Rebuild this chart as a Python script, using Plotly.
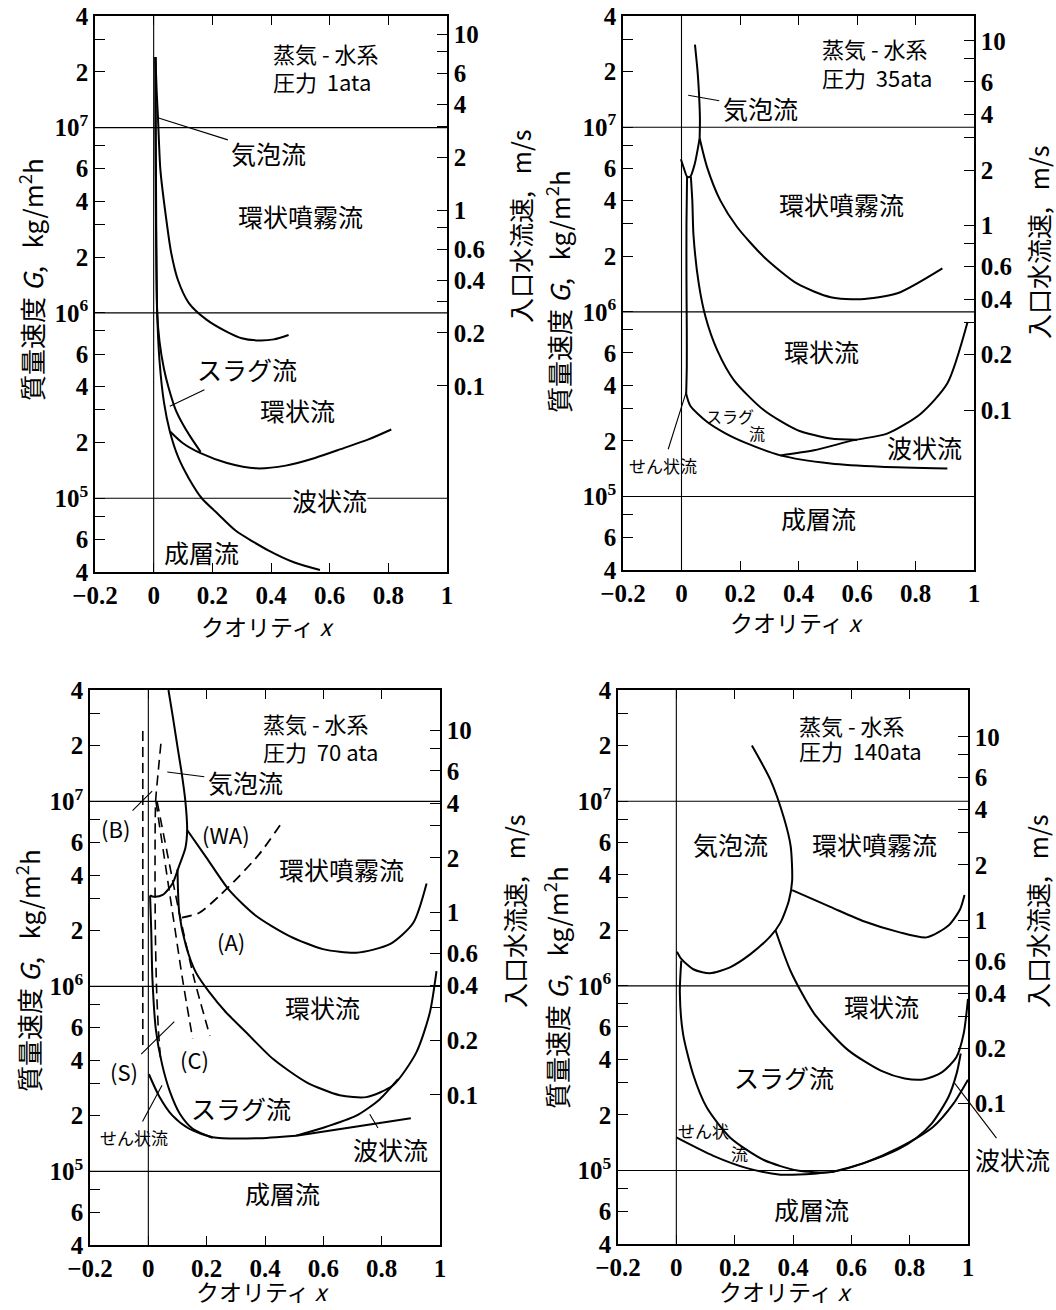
import math
import plotly.graph_objects as go

FIG_W, FIG_H = 1056, 1310

# ---------------- axes / ticks ----------------
X_RANGE = [-0.2, 1.0]
X_TICKS = [-0.2, 0, 0.2, 0.4, 0.6, 0.8, 1]
X_TICKTEXT = ["\u22120.2", "0", "0.2", "0.4", "0.6", "0.8", "1"]
G_RANGE = [4e4, 4e7]
G_TICKS = [4e4, 6e4, 1e5, 2e5, 4e5, 6e5, 1e6, 2e6, 4e6, 6e6, 1e7, 2e7, 4e7]
G_TICKTEXT = ["4", "6", "10<sup>5</sup>", "2", "4", "6", "10<sup>6</sup>",
              "2", "4", "6", "10<sup>7</sup>", "2", "4"]
G_MINOR = [8e4, 3e5, 8e5, 3e6, 8e6, 3e7]
G_GRID = [1e5, 1e6, 1e7]
V_TICKS = [0.1, 0.2, 0.4, 0.6, 1, 2, 4, 6, 10]
V_TICKTEXT = ["0.1", "0.2", "0.4", "0.6", "1", "2", "4", "6", "10"]
V_MINOR = [0.3, 0.8, 3, 8]
# inlet-velocity axis extent (m/s) at the bottom and top of each panel, as printed
V_BOTTOM = [0.00873, 0.01365, 0.0150, 0.01714]
V_TOP = [12.7, 13.65, 16.7, 17.99]
PRESSURES = ["1ata", "35ata", "70 ata", "140ata"]

# ---------------- panel 1 : 1 ata ----------------
P1_BUBBLE_X = [0.006, 0.01, 0.015, 0.023, 0.043, 0.06, 0.083, 0.12, 0.18, 0.25, 0.30, 0.36, 0.41, 0.46]
P1_BUBBLE_G = [2.4e7, 1.6e7, 1.1e7, 5.9e6, 3.2e6, 2.1e6, 1.5e6, 1.13e6, 9.2e5, 7.9e5, 7.3e5, 7.1e5, 7.2e5, 7.6e5]
P1_STRAT_X = [0.006, 0.006, 0.008, 0.012, 0.02, 0.035, 0.055, 0.084, 0.12, 0.164, 0.22, 0.279, 0.394, 0.48, 0.567]
P1_STRAT_G = [2.4e7, 1e7, 3e6, 1e6, 5.5e5, 3.3e5, 2.3e5, 1.66e5, 1.28e5, 1e5, 8.2e4, 6.7e4, 5.2e4, 4.5e4, 4.1e4]
P1_SLUG_X = [0.006, 0.008, 0.012, 0.02, 0.035, 0.05, 0.075, 0.10, 0.125, 0.16]
P1_SLUG_G = [2.4e7, 5e6, 1e6, 7e5, 5e5, 4e5, 3.0e5, 2.5e5, 2.15e5, 1.78e5]
P1_WAVY_X = [0.055, 0.10, 0.16, 0.25, 0.35, 0.45, 0.55, 0.65, 0.73, 0.81]
P1_WAVY_G = [2.3e5, 1.98e5, 1.75e5, 1.55e5, 1.45e5, 1.5e5, 1.65e5, 1.87e5, 2.07e5, 2.35e5]

# ---------------- panel 2 : 35 ata ----------------
P2_BUBBLE_X = [0.046, 0.055, 0.060, 0.063, 0.062]
P2_BUBBLE_G = [2.8e7, 2.0e7, 1.5e7, 1.1e7, 8.7e6]
P2_MIST_X = [0.062, 0.087, 0.133, 0.19, 0.281, 0.396, 0.51, 0.612, 0.738, 0.892]
P2_MIST_G = [8.7e6, 6.1e6, 4.0e6, 2.88e6, 1.99e6, 1.42e6, 1.2e6, 1.17e6, 1.26e6, 1.72e6]
P2_BUMP_X = [-0.002, 0.008, 0.019, 0.03, 0.045, 0.062]
P2_BUMP_G = [6.7e6, 6.0e6, 5.4e6, 5.4e6, 6.3e6, 8.7e6]
P2_PLUG_X = [0.019, 0.017, 0.017, 0.018, 0.018, 0.016]
P2_PLUG_G = [5.4e6, 3e6, 1.5e6, 8e5, 5e5, 3.6e5]
P2_LOWER_X = [0.016, 0.03, 0.087, 0.15, 0.224, 0.338, 0.51, 0.681, 0.909]
P2_LOWER_G = [3.6e5, 3.1e5, 2.54e5, 2.2e5, 1.94e5, 1.67e5, 1.51e5, 1.45e5, 1.42e5]
P2_ANN_X = [0.032, 0.037, 0.041, 0.059, 0.082, 0.122, 0.179, 0.281, 0.396, 0.51, 0.60]
P2_ANN_G = [5.4e6, 4.0e6, 2.6e6, 1.42e6, 9.4e5, 6.2e5, 4.27e5, 2.94e5, 2.29e5, 2.06e5, 2.03e5]
P2_WAVY_X = [0.338, 0.453, 0.59, 0.703, 0.818, 0.909, 0.978]
P2_WAVY_G = [1.67e5, 1.78e5, 2.02e5, 2.19e5, 2.81e5, 4.1e5, 8.8e5]

# ---------------- panel 3 : 70 ata ----------------
P3_BUBBLE_X = [0.069, 0.085, 0.10, 0.115, 0.127, 0.133, 0.127, 0.106, 0.083, 0.049, 0.02, 0.006]
P3_BUBBLE_G = [4e7, 2.8e7, 1.97e7, 1.4e7, 1.0e7, 7.0e6, 5.6e6, 4.5e6, 3.6e6, 3.12e6, 3.05e6, 3.1e6]
P3_MIST_X = [0.133, 0.198, 0.278, 0.37, 0.484, 0.599, 0.713, 0.828, 0.908, 0.954]
P3_MIST_G = [7.0e6, 5.0e6, 3.3e6, 2.4e6, 1.87e6, 1.59e6, 1.52e6, 1.69e6, 2.2e6, 3.6e6]
P3_ANN_X = [0.10, 0.106, 0.129, 0.163, 0.209, 0.266, 0.335, 0.427, 0.541, 0.656, 0.747, 0.839, 0.919, 0.965, 0.988]
P3_ANN_G = [4.3e6, 2.5e6, 1.66e6, 1.19e6, 9.3e5, 7.25e5, 5.65e5, 4.06e5, 3.04e5, 2.58e5, 2.52e5, 2.92e5, 4.4e5, 7.2e5, 1.21e6]
P3_SLUG_X = [0.006, 0.01, 0.014, 0.026, 0.047, 0.074, 0.108, 0.152, 0.22]
P3_SLUG_G = [3.1e6, 2e6, 1.1e6, 5.8e5, 3.8e5, 2.7e5, 2.05e5, 1.7e5, 1.52e5]
P3_PLUG_X = [0.002, 0.037, 0.083, 0.14, 0.22, 0.37, 0.507]
P3_PLUG_G = [3.35e5, 2.55e5, 2.0e5, 1.7e5, 1.53e5, 1.51e5, 1.56e5]
P3_FLAT_X = [0.507, 0.90]
P3_FLAT_G = [1.56e5, 1.94e5]
P3_WAVY_X = [0.507, 0.60, 0.713, 0.793, 0.856]
P3_WAVY_G = [1.56e5, 1.72e5, 2.0e5, 2.45e5, 3.15e5]
# dashed correlations (B), (S), (C), (WA)
P3_B_X = [-0.019, -0.019]
P3_B_G = [2.4e7, 4.7e5]
P3_S_X = [0.043, 0.033, 0.025, 0.023, 0.024, 0.028, 0.034, 0.042]
P3_S_G = [2.05e7, 1.4e7, 1e7, 5e6, 2e6, 1e6, 6e5, 4e5]
P3_C1_X = [0.026, 0.083, 0.117, 0.152]
P3_C1_G = [1e7, 2.5e6, 1.1e6, 5.2e5]
P3_C2_X = [0.030, 0.106, 0.157, 0.211]
P3_C2_G = [1e7, 2.5e6, 1.1e6, 5.4e5]
P3_WA_X = [0.115, 0.175, 0.243, 0.312, 0.381, 0.461]
P3_WA_G = [2.35e6, 2.5e6, 3.08e6, 3.95e6, 5.2e6, 7.8e6]

# ---------------- panel 4 : 140 ata ----------------
P4_BUBBLE_X = [0.259, 0.323, 0.369, 0.392, 0.397, 0.386, 0.357, 0.323, 0.253, 0.184, 0.115, 0.058, 0.017, 0.002]
P4_BUBBLE_G = [2.0e7, 1.3e7, 8.1e6, 5.7e6, 3.7e6, 2.9e6, 2.2e6, 1.86e6, 1.48e6, 1.26e6, 1.17e6, 1.23e6, 1.4e6, 1.53e6]
P4_MIST_X = [0.397, 0.53, 0.645, 0.76, 0.858, 0.933, 0.973, 0.988]
P4_MIST_G = [3.3e6, 2.67e6, 2.23e6, 1.96e6, 1.83e6, 2.12e6, 2.6e6, 3.1e6]
P4_ANN_X = [0.34, 0.392, 0.472, 0.588, 0.703, 0.783, 0.85, 0.91, 0.96, 0.985, 1.0]
P4_ANN_G = [2.0e6, 1.2e6, 7.1e5, 4.5e5, 3.46e5, 3.15e5, 3.12e5, 3.4e5, 4.1e5, 5.5e5, 8.5e5]
P4_SLUG_X = [0.017, 0.012, 0.023, 0.058, 0.104, 0.184, 0.30, 0.415, 0.53, 0.645, 0.76, 0.823, 0.876, 0.933, 0.962, 0.975]
P4_SLUG_G = [1.37e6, 9.2e5, 5.5e5, 3.3e5, 2.2e5, 1.51e5, 1.14e5, 1.0e5, 9.8e4, 1.1e5, 1.3e5, 1.5e5, 1.8e5, 2.5e5, 3.4e5, 4.3e5]
P4_PLUG_X = [0.0, 0.127, 0.242, 0.357, 0.472, 0.53]
P4_PLUG_G = [1.51e5, 1.2e5, 1.03e5, 9.5e4, 9.6e4, 9.8e4]
P4_WAVY_X = [0.53, 0.645, 0.76, 0.88, 0.95, 1.0]
P4_WAVY_G = [9.8e4, 1.1e5, 1.32e5, 1.72e5, 2.3e5, 3.1e5]

# ---------------- layout geometry (pixels: left, right, top, bottom) ----------------
BOXES = [(95, 447, 16, 572), (623, 974, 16, 570), (90, 440, 690, 1245), (618, 968, 690, 1244)]

SERIF = "Liberation Serif"
JP = "Noto Sans CJK JP"
TICK_FONT = dict(family=SERIF, size=25, color="black", weight="bold")

fig = go.Figure()


def xid(k):
    return "x" if k == 1 else f"x{k}"


def yid(k):
    return "y" if k == 1 else f"y{k}"


def y2id(k):
    return f"y{k + 4}"


def add_curve(k, xs, gs, dash="solid", width=2.0, smooth=0.7):
    fig.add_trace(go.Scatter(
        x=xs, y=gs, mode="lines", xaxis=xid(k), yaxis=yid(k),
        line=dict(color="black", width=width, dash=dash,
                  shape="spline" if smooth else "linear", smoothing=smooth or 0),
        hoverinfo="skip", showlegend=False))


annotations = []


def lab(k, x, g, text, size=25, **kw):
    d = dict(x=x, y=math.log10(g), xref=xid(k), yref=yid(k), text=text,
             showarrow=False, xanchor="center", yanchor="middle",
             font=dict(family=JP, size=size, color="black"))
    d.update(kw)
    annotations.append(d)


def leader(k, x, g, text, ax, ay, size=25):
    annotations.append(dict(x=x, y=math.log10(g), xref=xid(k), yref=yid(k), text=text,
                            showarrow=True, arrowhead=0, arrowwidth=1.1, arrowcolor="black",
                            ax=ax, ay=ay, standoff=0, startstandoff=2,
                            font=dict(family=JP, size=size, color="black")))


def paper_text(px, py, text, size=22, angle=0, **kw):
    d = dict(x=px / FIG_W, y=1 - py / FIG_H, xref="paper", yref="paper", text=text,
             showarrow=False, textangle=angle, xanchor="center", yanchor="middle",
             font=dict(family=JP, size=size, color="black"))
    d.update(kw)
    annotations.append(d)


layout_axes = {}
for k in range(1, 5):
    l, r, t, b = BOXES[k - 1]
    xkey = "xaxis" if k == 1 else f"xaxis{k}"
    ykey = "yaxis" if k == 1 else f"yaxis{k}"
    y2key = f"yaxis{k + 4}"
    layout_axes[xkey] = dict(
        domain=[l / FIG_W, r / FIG_W], range=X_RANGE, anchor=yid(k), automargin=False,
        tickmode="array", tickvals=X_TICKS, ticktext=X_TICKTEXT,
        ticks="inside", ticklen=9, tickwidth=1.2, tickcolor="black",
        showline=True, linecolor="black", linewidth=1.6, mirror="ticks",
        showgrid=False, zeroline=False, fixedrange=True, tickfont=TICK_FONT)
    layout_axes[ykey] = dict(
        domain=[1 - b / FIG_H, 1 - t / FIG_H], type="log", automargin=False,
        range=[math.log10(G_RANGE[0]), math.log10(G_RANGE[1])], anchor=xid(k),
        tickmode="array", tickvals=G_TICKS, ticktext=G_TICKTEXT,
        ticks="inside", ticklen=10, tickwidth=1.2, tickcolor="black",
        minor=dict(tickmode="array", tickvals=G_MINOR, ticks="inside", ticklen=10,
                   tickwidth=1.2, tickcolor="black", showgrid=False),
        showline=True, linecolor="black", linewidth=1.6,
        showgrid=False, zeroline=False, fixedrange=True, tickfont=TICK_FONT)
    layout_axes[y2key] = dict(
        type="log", overlaying=yid(k), side="right", anchor=xid(k), automargin=False,
        range=[math.log10(V_BOTTOM[k - 1]), math.log10(V_TOP[k - 1])],
        tickmode="array", tickvals=V_TICKS, ticktext=V_TICKTEXT,
        ticks="inside", ticklen=10, tickwidth=1.2, tickcolor="black",
        minor=dict(tickmode="array", tickvals=V_MINOR, ticks="inside", ticklen=10,
                   tickwidth=1.2, tickcolor="black", showgrid=False),
        showline=True, linecolor="black", linewidth=1.6,
        showgrid=False, zeroline=False, fixedrange=True, tickfont=TICK_FONT)

    # invisible trace so the velocity axis exists
    fig.add_trace(go.Scatter(x=[X_TICKS[0]] * len(V_TICKS), y=V_TICKS, mode="markers",
                             marker=dict(opacity=0), xaxis=xid(k), yaxis=y2id(k),
                             hoverinfo="skip", showlegend=False))
    # reference lines at the decades and at x = 0
    for gv in G_GRID:
        fig.add_trace(go.Scatter(x=X_RANGE, y=[gv, gv], mode="lines", xaxis=xid(k), yaxis=yid(k),
                                 line=dict(color="black", width=1.1), hoverinfo="skip", showlegend=False))
    fig.add_trace(go.Scatter(x=[0, 0], y=G_RANGE, mode="lines", xaxis=xid(k), yaxis=yid(k),
                             line=dict(color="black", width=1.1), hoverinfo="skip", showlegend=False))

# curves
add_curve(1, P1_BUBBLE_X, P1_BUBBLE_G)
add_curve(1, P1_STRAT_X, P1_STRAT_G)
add_curve(1, P1_SLUG_X, P1_SLUG_G)
add_curve(1, P1_WAVY_X, P1_WAVY_G)

add_curve(2, P2_BUBBLE_X, P2_BUBBLE_G)
add_curve(2, P2_MIST_X, P2_MIST_G)
add_curve(2, P2_BUMP_X, P2_BUMP_G)
add_curve(2, P2_PLUG_X, P2_PLUG_G)
add_curve(2, P2_LOWER_X, P2_LOWER_G)
add_curve(2, P2_ANN_X, P2_ANN_G)
add_curve(2, P2_WAVY_X, P2_WAVY_G)

add_curve(3, P3_BUBBLE_X, P3_BUBBLE_G)
add_curve(3, P3_MIST_X, P3_MIST_G)
add_curve(3, P3_ANN_X, P3_ANN_G)
add_curve(3, P3_SLUG_X, P3_SLUG_G)
add_curve(3, P3_PLUG_X, P3_PLUG_G)
add_curve(3, P3_FLAT_X, P3_FLAT_G, smooth=0)
add_curve(3, P3_WAVY_X, P3_WAVY_G)
add_curve(3, P3_B_X, P3_B_G, dash="10px,6px", width=1.6, smooth=0)
add_curve(3, P3_S_X, P3_S_G, dash="10px,6px", width=1.6)
add_curve(3, P3_C1_X, P3_C1_G, dash="10px,6px", width=1.6)
add_curve(3, P3_C2_X, P3_C2_G, dash="10px,6px", width=1.6)
add_curve(3, P3_WA_X, P3_WA_G, dash="10px,6px", width=1.8)

add_curve(4, P4_BUBBLE_X, P4_BUBBLE_G)
add_curve(4, P4_MIST_X, P4_MIST_G)
add_curve(4, P4_ANN_X, P4_ANN_G)
add_curve(4, P4_SLUG_X, P4_SLUG_G)
add_curve(4, P4_PLUG_X, P4_PLUG_G)
add_curve(4, P4_WAVY_X, P4_WAVY_G)

# ---------------- text ----------------
TITLE_LEFT = [0.40, 0.472, 0.385, 0.413]
TITLE_L1 = [7.40, 7.43, 7.424, 7.413]
TITLE_L2 = [7.25, 7.272, 7.275, 7.275]
for k in range(1, 5):
    lab(k, TITLE_LEFT[k - 1], 10 ** TITLE_L1[k - 1], "蒸気 - 水系", size=22, xanchor="left")
    lab(k, TITLE_LEFT[k - 1], 10 ** TITLE_L2[k - 1], "圧力  " + PRESSURES[k - 1], size=22, xanchor="left")

# panel 1
leader(1, 0.014, 10 ** 7.053, "気泡流", 111, 35)
lab(1, 0.499, 10 ** 6.523, "環状噴霧流")
leader(1, 0.055, 10 ** 5.496, "スラグ流", 77, -37)
lab(1, 0.492, 10 ** 5.474, "環状流")
lab(1, 0.601, 10 ** 4.993, "波状流", bgcolor="white", borderpad=0)
lab(1, 0.164, 10 ** 4.712, "成層流")

# panel 2
leader(2, 0.023, 10 ** 7.173, "気泡流", 72, 13)
lab(2, 0.547, 10 ** 6.583, "環状噴霧流")
lab(2, 0.478, 10 ** 5.787, "環状流")
lab(2, 0.167, 10 ** 5.435, "スラグ", size=16)
lab(2, 0.259, 10 ** 5.343, "流", size=16)
leader(2, 0.016, 10 ** 5.565, "せん状流", -23, 73, size=17)
lab(2, 0.832, 10 ** 5.267, "波状流")
lab(2, 0.468, 10 ** 4.883, "成層流")

# panel 3
leader(3, 0.065, 10 ** 7.159, "気泡流", 78, 10)
leader(3, 0.013, 10 ** 7.056, "(B)", -37, 37, size=22)
lab(3, 0.267, 10 ** 6.825, "(WA)", size=22)
lab(3, 0.663, 10 ** 6.637, "環状噴霧流")
lab(3, 0.285, 10 ** 6.245, "(A)", size=22)
lab(3, 0.598, 10 ** 5.89, "環状流")
leader(3, 0.089, 10 ** 5.809, "(S)", -50, 49, size=22)
lab(3, 0.157, 10 ** 5.61, "(C)", size=22)
lab(3, 0.316, 10 ** 5.341, "スラグ流")
leader(3, 0.047, 10 ** 5.465, "せん状流", -28, 52, size=17)
leader(3, 0.759, 10 ** 5.309, "波状流", 21, 35)
lab(3, 0.46, 10 ** 4.884, "成層流")

# panel 4
lab(4, 0.185, 10 ** 6.767, "気泡流")
lab(4, 0.681, 10 ** 6.767, "環状噴霧流")
lab(4, 0.704, 10 ** 5.89, "環状流")
lab(4, 0.369, 10 ** 5.506, "スラグ流")
lab(4, 0.092, 10 ** 5.219, "せん状", size=17)
lab(4, 0.218, 10 ** 5.094, "流", size=17)
leader(4, 0.954, 10 ** 5.473, "波状流", 58, 76)
lab(4, 0.462, 10 ** 4.791, "成層流")

# axis titles
LEFT_TITLE_POS = [(30, 280), (557, 292), (27, 971), (555, 988)]
RIGHT_TITLE_POS = [(520, 227), (1038, 243), (514, 912), (1037, 912)]
X_TITLE_POS = [(267, 626), (796, 622), (262, 1291), (785, 1291)]
for k in range(4):
    paper_text(*LEFT_TITLE_POS[k], "質量速度 <i>G</i>,   kg/m<sup>2</sup>h", size=26, angle=-90)
    paper_text(*RIGHT_TITLE_POS[k], "入口水流速,   m/s", size=25, angle=-90)
    paper_text(*X_TITLE_POS[k], "クオリティ <i>x</i>", size=23)

fig.update_layout(
    width=FIG_W, height=FIG_H, margin=dict(l=0, r=0, t=0, b=0, pad=0, autoexpand=False),
    paper_bgcolor="white", plot_bgcolor="white", showlegend=False,
    annotations=annotations, **layout_axes)

fig.write_html("out.html", post_script="document.body.style.margin='0px';",
               config={"displayModeBar": False})
